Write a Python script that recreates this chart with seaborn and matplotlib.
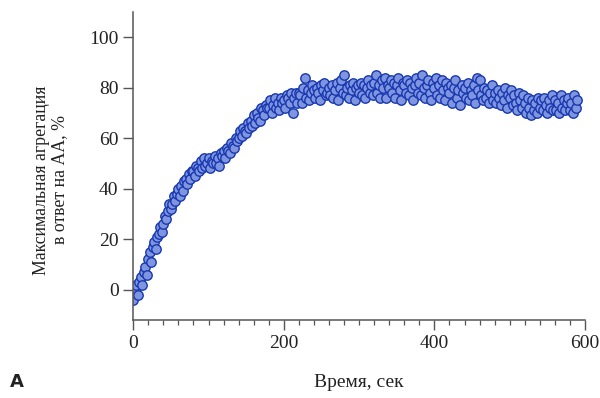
import numpy as np
import pandas as pd
import seaborn as sns
import matplotlib.pyplot as plt
from matplotlib.ticker import MultipleLocator

# time grid of the recording (one sample every 2 s)
time_s = np.arange(0, 592, 2)

# aggregation values, in blocks of 20 s
aggregation = [
    -4, 0, 2, -2, 3, 5, 2, 7, 9, 6,
    12, 15, 11, 17, 19, 16, 21, 22, 25, 23,
    26, 29, 28, 31, 34, 32, 34, 37, 35, 38,
    40, 37, 41, 39, 43, 44, 42, 46, 44, 47,
    47, 45, 49, 48, 47, 51, 48, 52, 49, 50,
    52, 48, 51, 50, 53, 50, 52, 49, 54, 53,
    55, 52, 56, 55, 54, 58, 57, 56, 60, 59,
    60, 63, 61, 64, 63, 62, 66, 64, 67, 65,
    69, 66, 70, 68, 67, 72, 71, 69, 73, 72,
    72, 75, 70, 73, 76, 72, 74, 71, 76, 74,
    75, 72, 77, 76, 74, 78, 70, 76, 78, 74,
    78, 77, 74, 80, 84, 76, 79, 75, 78, 81,
    79, 76, 80, 78, 75, 81, 79, 82, 77, 78,
    80, 77, 81, 76, 79, 82, 75, 80, 83, 78,
    85, 77, 80, 76, 81, 79, 82, 75, 80, 81,
    78, 82, 77, 81, 76, 80, 83, 78, 81, 77,
    82, 85, 78, 81, 76, 83, 80, 84, 76, 81,
    80, 83, 78, 82, 76, 81, 84, 79, 75, 82,
    81, 78, 83, 77, 82, 80, 75, 81, 84, 78,
    82, 77, 85, 80, 76, 81, 83, 78, 75, 82,
    80, 84, 77, 81, 76, 83, 79, 75, 82, 80,
    78, 81, 74, 80, 83, 76, 79, 73, 81, 78,
    80, 76, 82, 75, 79, 77, 81, 74, 84, 79,
    83, 77, 75, 80, 76, 79, 74, 78, 81, 75,
    78, 74, 79, 76, 73, 78, 75, 80, 72, 77,
    76, 79, 73, 77, 74, 71, 78, 75, 72, 77,
    74, 70, 76, 72, 69, 75, 71, 74, 70, 76,
    72, 75, 71, 76, 73, 70, 75, 72, 77, 71,
    75, 71, 74, 70, 77, 72, 75, 71, 74, 76,
    71, 74, 70, 77, 72, 75,
]

df = pd.DataFrame({'time': time_s, 'agg': aggregation})

sns.set_style('ticks')
plt.rcParams['font.family'] = ['Liberation Serif', 'DejaVu Serif']

fig = plt.figure(figsize=(6, 3.98), dpi=100)
ax = fig.add_axes([0.222, 0.196, 0.753, 0.774])

sns.scatterplot(data=df, x='time', y='agg', ax=ax, s=46,
                color='#7f95e0', edgecolor='#1838b0', linewidth=1.0)

ax.set_xlim(0, 600)
ax.set_ylim(-12, 110)
ax.set_xticks([0, 200, 400, 600])
ax.xaxis.set_minor_locator(MultipleLocator(20))
ax.set_yticks([0, 20, 40, 60, 80, 100])

sns.despine(ax=ax)
for sp in ['left', 'bottom']:
    ax.spines[sp].set_color('#555555')
    ax.spines[sp].set_linewidth(1.1)
ax.tick_params(which='major', length=7, width=1, color='#555555',
               labelsize=14, labelcolor='#222222')
ax.tick_params(which='minor', length=3.5, width=0.9, color='#555555')

ax.set_xlabel('Время, сек', fontsize=14, color='#222222', labelpad=16)
ax.set_ylabel('Максимальная агрегация\nв ответ на АА, %', fontsize=12.8,
              color='#222222', linespacing=1.1)
ax.yaxis.set_label_coords(-0.144, 0.455)

fig.text(0.016, 0.028, 'А', fontsize=13, fontweight='bold',
         family='DejaVu Sans', color='#222222')

fig.savefig('out.png', dpi=100)
